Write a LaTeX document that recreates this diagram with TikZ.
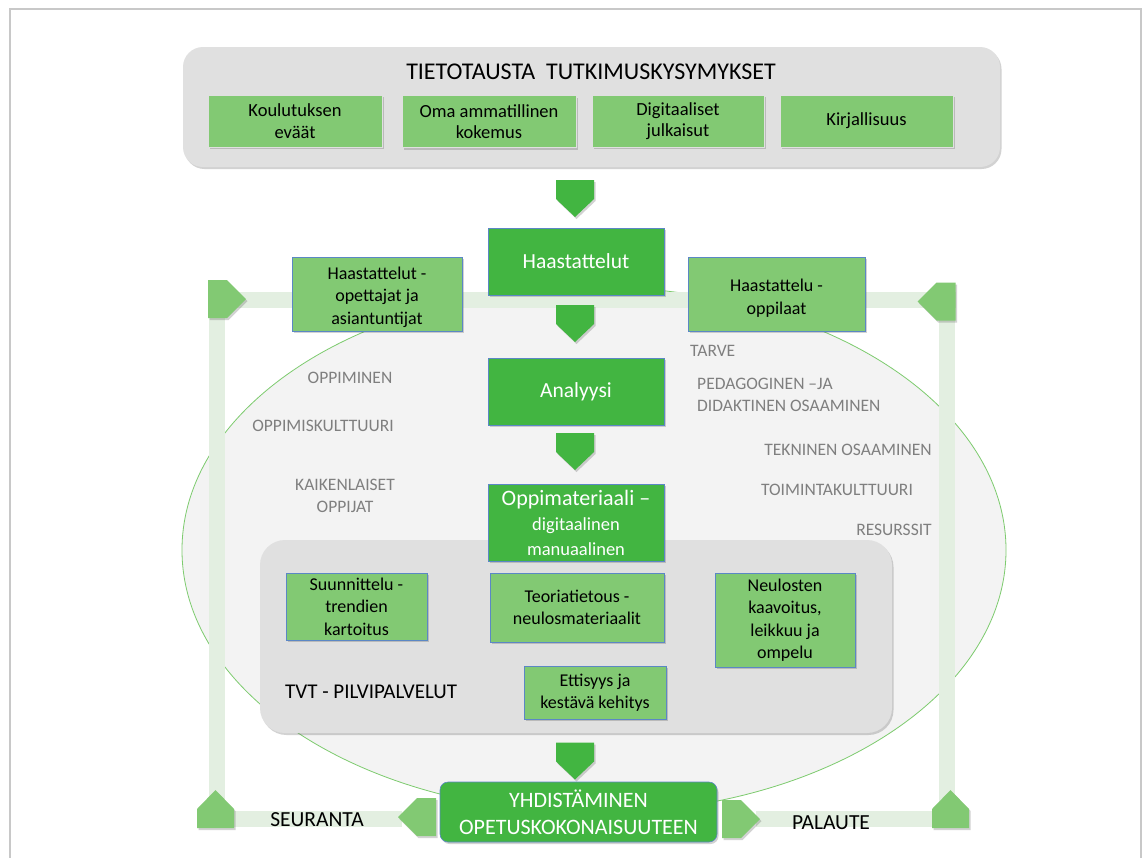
\documentclass[tikz,border=0pt]{standalone}
\usepackage{fontspec}
\setmainfont{Carlito}
\usetikzlibrary{shadows}
\definecolor{lgreen}{HTML}{82C973}
\definecolor{mgreen}{HTML}{42B541}
\definecolor{bblue}{HTML}{5B87C5}
\definecolor{panelgray}{HTML}{E0E0E0}
\definecolor{ellfill}{HTML}{F3F3F3}
\definecolor{ellline}{HTML}{7DCB6E}
\definecolor{pathgreen}{HTML}{E3EFE1}
\definecolor{txtgray}{HTML}{7F7F7F}
\definecolor{framegray}{HTML}{C8C8C8}
\begin{document}
\begin{tikzpicture}[x=1pt,y=-1pt,
 shad/.style={drop shadow={shadow xshift=1.5pt,shadow yshift=-2pt,opacity=0.25,fill=black!70}},
 topbox/.style={draw=black!12, line width=0.6pt, fill=lgreen, minimum height=52pt, align=center, font=\fontsize{18.5}{21.5}\selectfont, shad, inner sep=2pt},
 sidebox/.style={draw=bblue, line width=0.6pt, fill=lgreen, align=center, font=\fontsize{18}{22.5}\selectfont, shad, inner sep=2pt},
 mainbox/.style={draw=bblue, line width=0.6pt, fill=mgreen, text=white, align=center, minimum width=176pt, minimum height=67pt, font=\fontsize{21.5}{25}\selectfont, shad, inner sep=2pt},
 lbl/.style={text=txtgray, font=\fontsize{17.5}{22}\selectfont, align=center, inner sep=0pt},
 blk/.style={text=black, font=\fontsize{21.5}{25}\selectfont, inner sep=0pt},
 bar/.style={pathgreen, line width=16pt},
 pics/chevdown/.style={code={\fill[mgreen,shad] (-19,-18.5)--(19,-18.5)--(19,0.5)--(0,18.5)--(-19,0.5)--cycle;}},
 pics/pentup/.style={code={\fill[lgreen,shad] (-18.5,19)--(-18.5,0)--(0,-19)--(18.5,0)--(18.5,19)--cycle;}},
 pics/pentleft/.style={code={\fill[lgreen,shad] (19,-19)--(0,-19)--(-19,0)--(0,19)--(19,19)--cycle;}},
 pics/pentright/.style={code={\fill[lgreen,shad] (-19,-19)--(0,-19)--(19,0)--(0,19)--(-19,19)--cycle;}},
]
\useasboundingbox (0,0) rectangle (1147,857);
\fill[white] (0,0) rectangle (1147,857);
% frame
\draw[framegray, line width=2.5pt] (10,860) -- (10,9) -- (1141,9) -- (1141,860);

% top panel
\node[fill=panelgray, rounded corners=20pt, minimum width=817pt, minimum height=120pt, shad] (toppanel) at (591.5,107) {};
\node[font=\fontsize{24}{27}\selectfont] (title) at (591,72) {TIETOTAUSTA\ \ TUTKIMUSKYSYMYKSET};
\node[topbox, minimum width=174pt] (kou) at (295,121) {Koulutuksen\\eväät};
\node[topbox, minimum width=174pt] (oma) at (489,121.5) {Oma ammatillinen\\kokemus};
\node[topbox, minimum width=172pt] (dig) at (678,121) {Digitaaliset\\julkaisut};
\node[topbox, minimum width=173pt] (kir) at (866.5,121) {Kirjallisuus};

% ellipse
\draw[ellline, line width=0.8pt, fill=ellfill] (594,550) ellipse [x radius=412, y radius=263];

% green loop bars
\coordinate (tl) at (217,300);
\coordinate (tle) at (208,300);
\coordinate (tre) at (956,300);
\coordinate (tr) at (947,300);
\coordinate (bl) at (217,819);
\coordinate (br) at (947,819);
\coordinate (bml) at (402,819);
\coordinate (bmr) at (756,819);
\draw[bar] (tle) -- (tre);
\draw[bar] (tl) -- (bl);
\draw[bar] (tr) -- (br);
\draw[bar] (bl) -- (bml);
\draw[bar] (bmr) -- (br);

% markers
\pic at (227,299) {pentright};
\pic at (936.5,301.5) {pentleft};
\pic at (215.5,809) {pentup};
\pic at (950.5,809) {pentup};
\pic at (417,817) {pentleft};
\pic at (741,819) {pentright};

% TVT panel
\node[fill=panelgray, rounded corners=25pt, minimum width=632pt, minimum height=193pt, shad] (tvt) at (576,636.5) {};
\node[font=\fontsize{21}{25}\selectfont, anchor=west, inner sep=0pt] (tvtl) at (285,692) {TVT - PILVIPALVELUT};
\node[sidebox, minimum width=141pt, minimum height=67pt] (suu) at (356.5,606.5) {Suunnittelu -\\trendien\\kartoitus};
\node[sidebox, minimum width=174pt, minimum height=69pt] (teo) at (577,607.5) {Teoriatietous -\\neulosmateriaalit};
\node[sidebox, minimum width=140pt, minimum height=94pt] (neu) at (785,620) {Neulosten\\kaavoitus,\\leikkuu ja\\ompelu};
\node[sidebox, minimum width=142pt, minimum height=53pt] (ett) at (595,692.5) {Ettisyys ja\\kestävä kehitys};

% main column
\pic at (575,198.5) {chevdown};
\node[mainbox] (haa) at (576,261.5) {Haastattelut};
\pic at (575,323.5) {chevdown};
\node[mainbox] (ana) at (576,391.5) {Analyysi};
\pic at (575,451.5) {chevdown};
\node[mainbox, minimum height=77pt] (opp) at (576,522.5) {{\fontsize{22}{24}\selectfont Oppimateriaali –}\\{\fontsize{18.5}{22}\selectfont digitaalinen}\\{\fontsize{18.5}{22}\selectfont manuaalinen}};
\pic at (575,761) {chevdown};
\node[mainbox, rounded corners=8pt, minimum width=277pt, minimum height=60pt, font=\fontsize{22}{27}\selectfont] (yhd) at (578.5,812) {YHDISTÄMINEN\\OPETUSKOKONAISUUTEEN};

% side interview boxes
\node[sidebox, minimum width=170pt, minimum height=74pt] (hop) at (377,294) {\rule{0pt}{19pt}Haastattelut -\\opettajat ja\\asiantuntijat};
\node[sidebox, minimum width=177pt, minimum height=74pt] (hol) at (776.5,294) {\rule{0pt}{21pt}Haastattelu -\\oppilaat};

% gray labels
\node[lbl, anchor=west] (tarve) at (690,351) {TARVE};
\node[lbl] (oppim) at (350,378) {OPPIMINEN};
\node[lbl, anchor=north west, align=left] (ped) at (697,378) {PEDAGOGINEN –JA\\DIDAKTINEN OSAAMINEN};
\node[lbl] (oku) at (323,426) {OPPIMISKULTTUURI};
\node[lbl] (tek) at (848,450) {TEKNINEN OSAAMINEN};
\node[lbl] (kai) at (345,496) {KAIKENLAISET\\OPPIJAT};
\node[lbl] (toi) at (837,490) {TOIMINTAKULTTUURI};
\node[lbl] (res) at (894,530) {RESURSSIT};

% bottom labels
\node[blk] (seu) at (317,820) {SEURANTA};
\node[blk] (pal) at (831,823) {PALAUTE};
\end{tikzpicture}
\end{document}
